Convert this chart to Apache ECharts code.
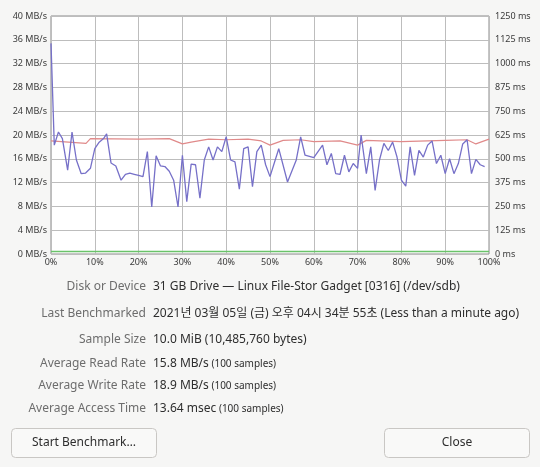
<!DOCTYPE html>
<html><head><meta charset="utf-8">
<script src="https://cdn.jsdelivr.net/npm/echarts@6/dist/echarts.min.js"></script>
<style>html,body{margin:0;padding:0;background:#f6f6f5;}#c{width:540px;height:467px;}</style>
</head><body><div id="c"></div>
<script>
const readX = [0,0.75,1.7,2.6,3.8,4.8,5.8,6.9,7.9,9,10,11,12,12.7,13.7,14.8,16,17,18,19,20,21,22,23,24,25,26,27,28,29,30,31,32,33,34,35,36,37,38,39,40,41,42,43,44,45,46,47,48,49,50,52,54,56,57,58,59,60,62,63,64,65,66,67,68,69,70,70.8,72,73,74,75,76,77,78,79,80,81,82,83,84,85,86,87,88,89,90,91,92,93,94,95,96,97,98,99];
const readY = [35.4,18.3,20.5,19.4,14.1,20.5,15.8,13.5,13.6,14.4,17.7,18.8,19.4,20.2,15.3,14.8,12.4,13.4,13.6,13.4,13.2,13.0,17.2,7.9,16.5,14.8,14.7,13.9,12.4,7.9,16.6,8.8,15.1,15.0,9.4,15.8,18.0,15.8,18.0,17.2,19.7,15.8,15.5,10.9,17.7,18.0,11.3,17.2,18.3,15.0,13.0,17.7,12.1,15.8,19.7,16.6,16.4,16.2,18.3,15.0,16.9,13.5,13.4,16.6,13.8,15.2,14.4,20.0,13.5,18.0,10.7,15.8,18.6,17.4,18.8,16.3,12.4,11.4,18.0,13.2,17.4,16.3,18.3,19.0,15.2,16.6,13.5,16.0,13.5,15.2,18.5,19.2,13.5,15.9,15.0,14.7];
const writeX = [0,4,8,9,20,27,30,32,36,40,45,48,50,53,57,60,66,70,72,80,90,95,97,100];
const writeY = [19.0,18.8,18.6,19.4,19.3,19.4,18.5,18.8,19.3,19.2,19.3,19.0,18.3,19.1,19.2,18.9,19.0,18.3,19.1,18.9,19.1,19.2,18.5,19.3];
const accessX = [0,10,20,30,40,50,60,70,80,90,100];
const accessY = [13.6,13.5,13.7,13.6,13.6,13.7,13.6,13.5,13.7,13.6,13.6];
const infoLabels = ['Disk or Device','Last Benchmarked','Sample Size','Average Read Rate','Average Write Rate','Average Access Time'];
const infoMain = ['31 GB Drive — Linux File-Stor Gadget [0316] (/dev/sdb)','2021년 03월 05일 (금) 오후 04시 34분 55초 (Less than a minute ago)','10.0 MiB (10,485,760 bytes)','15.8 MB/s','18.9 MB/s','13.64 msec'];
const infoSmall = ['','','','(100 samples)','(100 samples)','(100 samples)'];
const zip=(a,b)=>a.map((v,i)=>[v,b[i]]);
const ch = echarts.init(document.getElementById('c'));
const F = '"Noto Sans","Noto Sans CJK KR",sans-serif';
const rowY=[287,314,340,364,386,409];
const g=[];
infoLabels.forEach((l,i)=>{
  g.push({type:'text',x:146,y:rowY[i],style:{text:l,fill:'#6d6d6d',font:'12px '+F,align:'right',verticalAlign:'middle'}});
  g.push({type:'text',x:153,y:rowY[i],style:{text:'{m|'+infoMain[i]+'}'+(infoSmall[i]?'{s| '+infoSmall[i]+'}':''),verticalAlign:'middle',
    rich:{m:{fill:'#2e2e2e',fontSize:12,fontFamily:F},s:{fill:'#2e2e2e',fontSize:10,fontFamily:F}}}});
});
g.push({type:'rect',shape:{x:11.5,y:428.5,width:145,height:29,r:4},style:{fill:'#f9f9f8',stroke:'#c9c7c4'}});
g.push({type:'text',x:84,y:443,style:{text:'Start Benchmark…',fill:'#2e2e2e',font:'12px '+F,align:'center',verticalAlign:'middle'}});
g.push({type:'rect',shape:{x:384.5,y:428.5,width:145,height:29,r:4},style:{fill:'#f9f9f8',stroke:'#c9c7c4'}});
g.push({type:'text',x:457,y:443,style:{text:'Close',fill:'#2e2e2e',font:'12px '+F,align:'center',verticalAlign:'middle'}});
const axisLab={color:'#3a3a3a',fontSize:9,fontFamily:F};
ch.setOption({
  animation:false,
  grid:{left:51,right:51,top:16,bottom:213,show:true,backgroundColor:'#ffffff',borderColor:'#8a8a8a'},
  xAxis:{type:'value',min:0,max:100,interval:10,axisLabel:Object.assign({formatter:'{value}%',margin:4},axisLab),axisLine:{show:false},axisTick:{show:false},splitLine:{lineStyle:{color:'#bdbdbd'}}},
  yAxis:[
    {type:'value',min:0,max:40,interval:4,axisLabel:Object.assign({formatter:'{value} MB/s',margin:4},axisLab),axisLine:{show:false},axisTick:{show:false},splitLine:{lineStyle:{color:'#bdbdbd'}}},
    {type:'value',min:0,max:1250,interval:125,position:'right',axisLabel:Object.assign({formatter:v=>v+' ms',margin:6},axisLab),axisLine:{show:false},axisTick:{show:false},splitLine:{show:false}}
  ],
  series:[
    {type:'line',yAxisIndex:1,data:zip(accessX,accessY),symbol:'none',lineStyle:{color:'#6ac36a',width:1.5}},
    {type:'line',data:zip(writeX,writeY),symbol:'none',lineStyle:{color:'#e08a8a',width:1.2}},
    {type:'line',data:zip(readX,readY),symbol:'none',lineStyle:{color:'#7670c8',width:1.3}}
  ],
  graphic:g
});
</script></body></html>
